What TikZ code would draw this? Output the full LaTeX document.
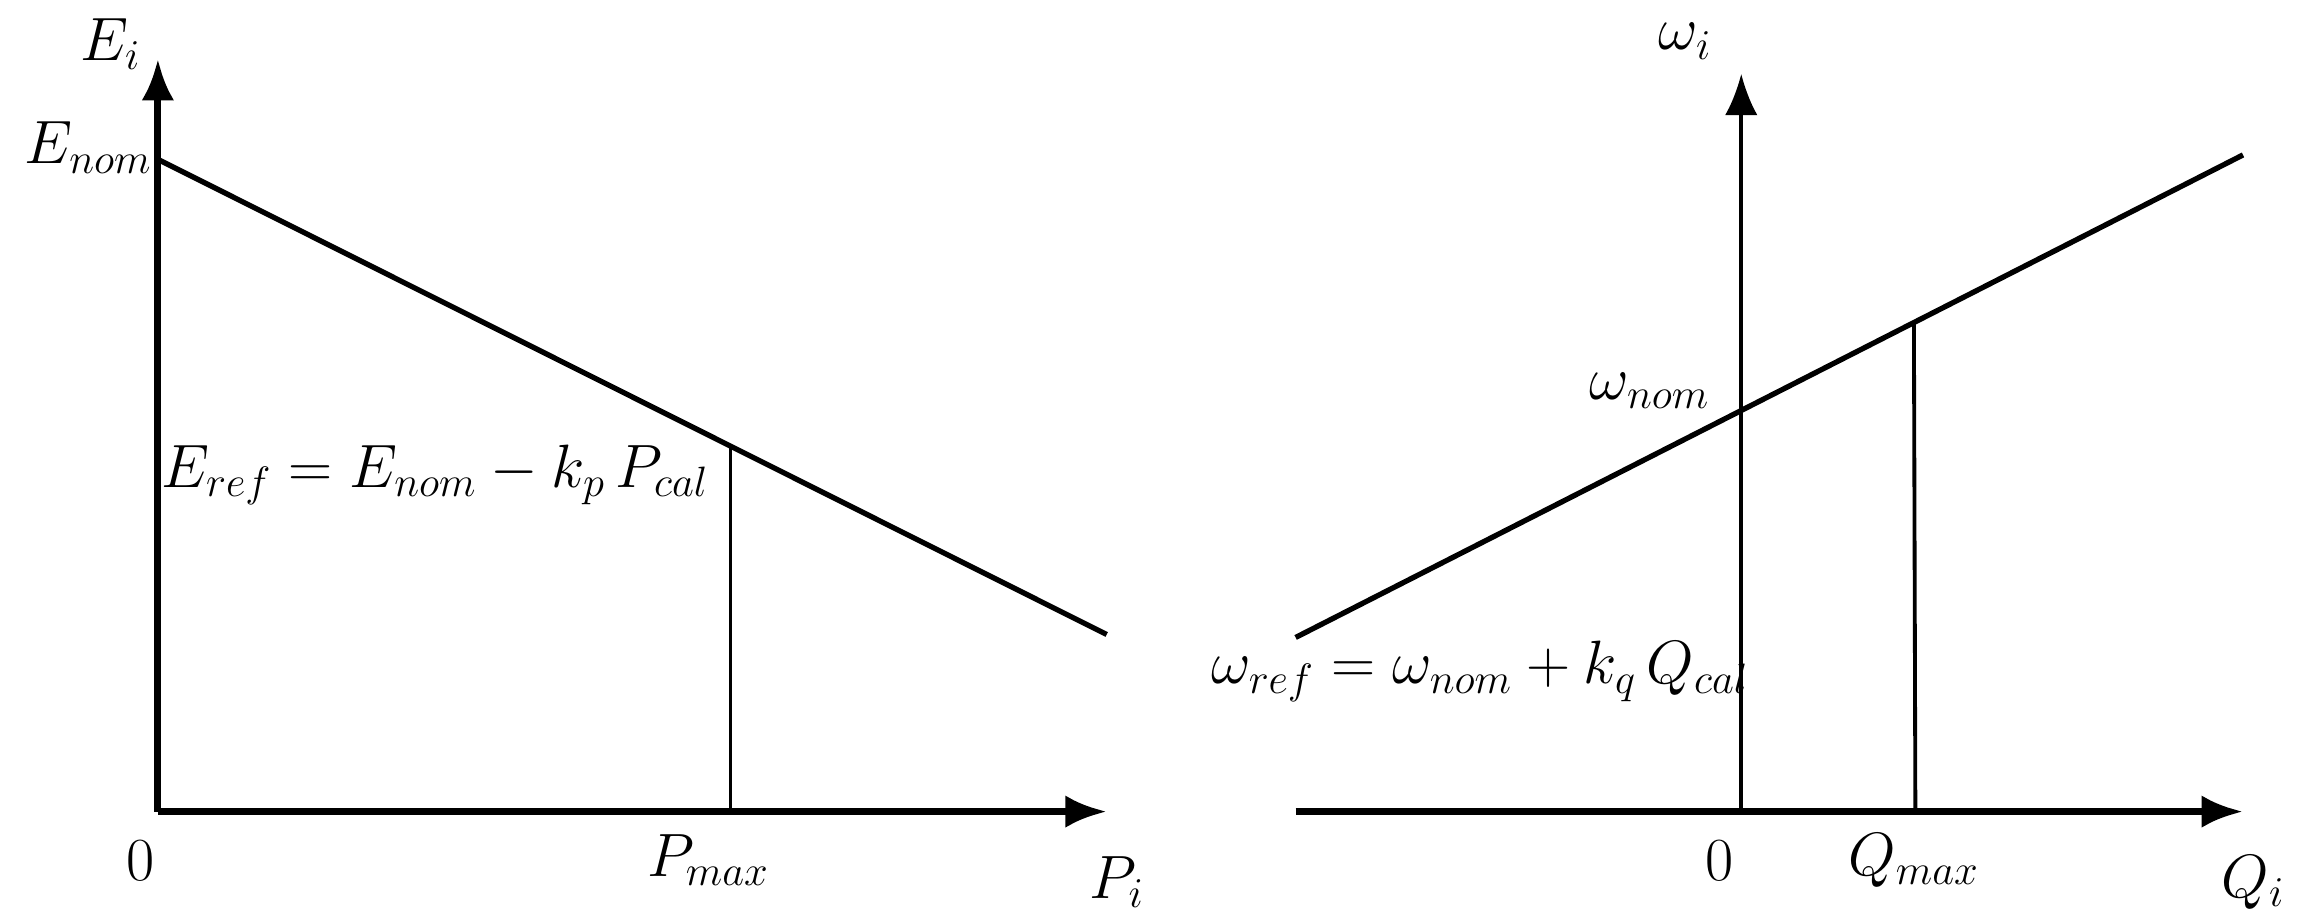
\documentclass[tikz,border=0pt]{standalone}
\usetikzlibrary{arrows.meta}
\begin{document}
\begin{tikzpicture}[x=0.5pt,y=-0.5pt,
  ax/.style={line width=2.4pt,-{Latex[length=14pt,width=11pt]}},
  ln/.style={line width=1.8pt},
  thin/.style={line width=1.3pt},
  lab/.style={font=\fontsize{20}{24}\selectfont}]
\useasboundingbox (0,0) rectangle (1560,624);
% left
\coordinate (o1) at (107,550);
\coordinate (yt1) at (107,40);
\coordinate (xt1) at (750,550);
\coordinate (a1) at (107,108);
\coordinate (b1) at (750,430);
\coordinate (p1) at (495,302);
\coordinate (p1b) at (495,550);
\draw[ax] (o1) -- (yt1);
\draw[ax] (o1) -- (xt1);
\draw[ln] (a1) -- (b1);
\draw[thin] (p1) -- (p1b);
\node[lab] (ei) at (75,30) {$E_i$};
\node[lab] (enom) at (60,100) {$E_{nom}$};
\node[lab] (f1) at (295,322) {$E_{ref}=E_{nom}-k_p\,P_{cal}$};
\node[lab] (z1) at (95,583) {$0$};
\node[lab] (pmax) at (480,583) {$P_{max}$};
\node[lab] (pi) at (757,598) {$P_i$};
% right
\coordinate (xs2) at (878,550);
\coordinate (xt2) at (1520,550);
\coordinate (o2) at (1180,550);
\coordinate (yt2) at (1180,50);
\coordinate (a2) at (878,432);
\coordinate (b2) at (1520,105);
\coordinate (q2) at (1297,218);
\coordinate (q2b) at (1298,550);
\draw[ax] (xs2) -- (xt2);
\draw[thin,-{Latex[length=14pt,width=11pt]}] (o2) -- (yt2);
\draw[ln] (a2) -- (b2);
\draw[thin] (q2) -- (q2b);
\node[lab] (wi) at (1142,28) {$\omega_i$};
\node[lab] (wnom) at (1118,265) {$\omega_{nom}$};
\node[lab] (f2) at (1003,455) {$\omega_{ref}=\omega_{nom}+k_q\,Q_{cal}$};
\node[lab] (z2) at (1165,583) {$0$};
\node[lab] (qmax) at (1297,583) {$Q_{max}$};
\node[lab] (qi) at (1527,598) {$Q_i$};
\end{tikzpicture}
\end{document}
